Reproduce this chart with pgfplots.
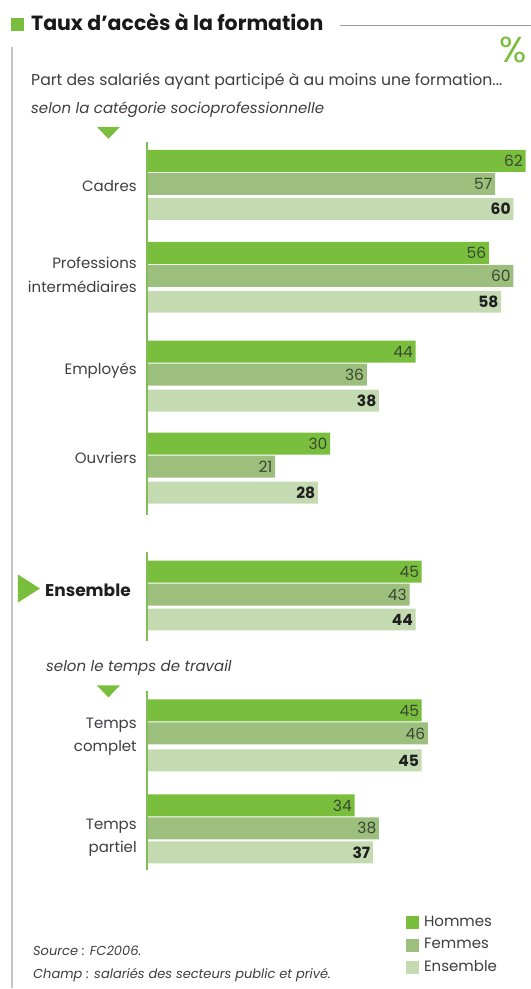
\documentclass[border=0pt]{standalone}
\usepackage{fontspec}
\setmainfont{Poppins}
\usepackage{pgfplots}
\pgfplotsset{compat=1.18}
\definecolor{cH}{RGB}{122,190,62}
\definecolor{cF}{RGB}{157,191,126}
\definecolor{cE}{RGB}{196,218,176}
\definecolor{txt}{RGB}{62,62,66}
\definecolor{num}{RGB}{58,72,48}
\definecolor{axl}{RGB}{130,190,85}
\definecolor{frm}{RGB}{196,196,196}
\newcommand\fs[1]{\fontsize{#1}{#1}\selectfont}
\begin{document}
\begin{tikzpicture}
\begin{axis}[
  scale only axis, width=531pt, height=989pt,
  xmin=-24.047, xmax=62.817,
  ymin=0, ymax=989, y dir=reverse,
  hide axis, clip=false,
  xbar, bar width=22pt,
  point meta=x,
  /pgf/number format/assume math mode=true,
  nodes near coords,
  nodes near coords align={horizontal},
  every node near coord/.append style={anchor=east, xshift=-1.5pt, font=\fs{15.5}, color=num, inner sep=1pt},
  legend image code/.code={\fill[#1] (0pt,-6.5pt) rectangle (13pt,6.5pt);},
  legend style={at={(axis cs:42.4,916)}, anchor=north west, draw=none, fill=none,
    font=\fs{15}, text=txt, row sep=8pt, column sep=5pt, inner sep=0pt,
    nodes={text height=11pt, text depth=3.5pt, inner sep=0pt}},
  legend cell align=left,
]
\addplot[fill=cH, draw=none, bar shift=0pt] coordinates {
  (62,161) (56,253) (44,352) (30,444) (45,572) (45,711) (34,806)};
\addlegendentry{Hommes}
\addplot[fill=cF, draw=none, bar shift=0pt] coordinates {
  (57,184) (60,276) (36,375) (21,467) (43,595) (46,734) (38,829)};
\addlegendentry{Femmes}
\addplot[fill=cE, draw=none, bar shift=0pt,
  every node near coord/.append style={font=\fs{15.5}\bfseries, color=black!88}] coordinates {
  (60,209) (58,302) (38,401) (28,493) (44,620) (45,761) (37,853)};
\addlegendentry{Ensemble}
\end{axis}
\begin{scope}[x=1pt, y=-1pt, shift={(0pt,989pt)}]
  \path (0,0) rectangle (531,989);
  % frame and title
  \fill[cH] (11,18) rectangle (24,31);
  \node[anchor=base west, inner sep=0pt, text=black!90] at (31,31) {\fs{20.5}\bfseries Taux d’accès à la formation};
  \draw[black!40, line width=0.8pt] (340,25) -- (531,25);
  \draw[frm, line width=1.6pt] (12,47) -- (12,989);
  \node[anchor=base east, inner sep=0pt, text=cH] at (527,63) {\fs{36}\%};
  \node[anchor=base west, inner sep=0pt, text=txt] at (31,86) {\fs{15.7}Part des salariés ayant participé à au moins une formation...};
  \node[anchor=base west, inner sep=0pt, text=txt] at (31,114) {\fs{15}\itshape selon la catégorie socioprofessionnelle};
  \fill[cH] (97,127) -- (120,127) -- (108.5,139) -- cycle;
  % axis segments
  \draw[axl, line width=1.4pt] (147,142) -- (147,515);
  \draw[axl, line width=1.4pt] (147,552) -- (147,642);
  \draw[axl, line width=1.4pt] (147,692) -- (147,871);
  % category labels
  \node[anchor=base east, inner sep=0pt, text=txt] at (137,192) {\fs{15}Cadres};
  \node[anchor=base east, inner sep=0pt, text=txt] at (137,269) {\fs{15}Professions};
  \node[anchor=base east, inner sep=0pt, text=txt] at (137,293) {\fs{15}intermédiaires};
  \node[anchor=base east, inner sep=0pt, text=txt] at (137,375) {\fs{15}Employés};
  \node[anchor=base east, inner sep=0pt, text=txt] at (137,464) {\fs{15}Ouvriers};
  \fill[cH] (18,575) -- (40,589) -- (18,603) -- cycle;
  \node[anchor=base west, inner sep=0pt, text=black!88] at (45,597) {\fs{17}\bfseries Ensemble};
  \node[anchor=base west, inner sep=0pt, text=txt] at (46,672) {\fs{15}\itshape selon le temps de travail};
  \fill[cH] (97,686) -- (120,686) -- (108.5,698) -- cycle;
  \node[anchor=base east, inner sep=0pt, text=txt] at (137,729) {\fs{15}Temps};
  \node[anchor=base east, inner sep=0pt, text=txt] at (137,752) {\fs{15}complet};
  \node[anchor=base east, inner sep=0pt, text=txt] at (137,830) {\fs{15}Temps};
  \node[anchor=base east, inner sep=0pt, text=txt] at (137,853) {\fs{15}partiel};
  % source
  \node[anchor=base west, inner sep=0pt, text=txt] at (33,956) {\fs{13}\itshape Source : FC2006.};
  \node[anchor=base west, inner sep=0pt, text=txt] at (33,979) {\fs{13}\itshape Champ : salariés des secteurs public et privé.};
\end{scope}
\end{tikzpicture}
\end{document}
